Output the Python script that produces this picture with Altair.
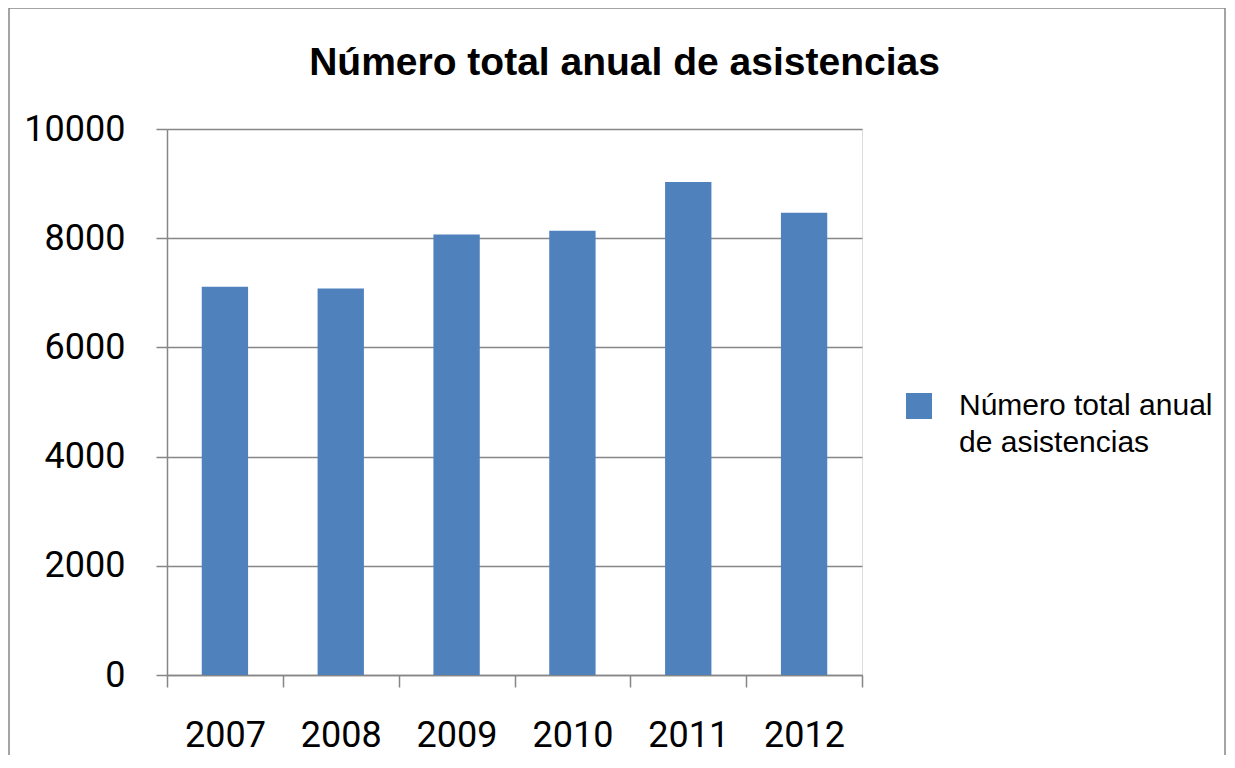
import altair as alt
import pandas as pd

years = ["2007", "2008", "2009", "2010", "2011", "2012"]
values = [7110, 7080, 8070, 8135, 9030, 8465]
series_name = "Número total anual de asistencias"

df = pd.DataFrame({"year": years, "value": values, "serie": [series_name] * len(years)})

GRID = "#868686"
NUM_FONT = "Roboto"
TXT_FONT = "Liberation Sans"

frame = alt.Chart(alt.Data(values=[{}])).mark_rect(
    fillOpacity=0, stroke=GRID, strokeWidth=1.5
).encode(
    x=alt.value(-158), x2=alt.value(1058), y=alt.value(-121), y2=alt.value(700)
)

bars = alt.Chart(df).mark_bar(color="#4F81BD", width=alt.RelativeBandSize(0.4)).encode(
    x=alt.X("year:N", sort=years, title=None,
            scale=alt.Scale(paddingInner=0, paddingOuter=0),
            axis=alt.Axis(labelAngle=0, labelFont=NUM_FONT, labelFontSize=36,
                          labelColor="black", labelPadding=31, tickBand="extent",
                          tickSize=12, tickColor=GRID, domainColor=GRID,
                          domainWidth=1.5, tickWidth=1.5, grid=False)),
    y=alt.Y("value:Q", title=None,
            scale=alt.Scale(domain=[0, 10000]),
            axis=alt.Axis(values=[0, 2000, 4000, 6000, 8000, 10000], format="d",
                          labelFont=NUM_FONT, labelFontSize=36, labelColor="black",
                          labelPadding=31, tickSize=11, tickColor=GRID,
                          domainColor=GRID, domainWidth=1.5, tickWidth=1.5,
                          gridColor=GRID, gridWidth=1.5, gridOpacity=1)),
    color=alt.Color("serie:N", scale=alt.Scale(range=["#4F81BD"]), title=None,
                    legend=alt.Legend(orient="none", legendX=737, legendY=262,
                                      symbolType="square", symbolSize=676,
                                      symbolStrokeWidth=0, labelFont=TXT_FONT,
                                      labelFontSize=30, labelColor="black",
                                      labelLimit=0, labelOffset=25, padding=0,
                                      labelExpr="['Número total anual', 'de asistencias']")),
)

chart = alt.layer(frame, bars).properties(
    width=695, height=546,
    autosize=alt.AutoSizeParams(type="none"),
    padding={"left": 159, "top": 121, "right": 365, "bottom": 80},
    title=alt.Title(series_name, font=TXT_FONT, fontSize=39, fontWeight="bold",
                    color="black", anchor="middle", frame="group", dx=110, offset=-76),
).configure_view(stroke=None).configure(
    background="white", style={"guide-label": {"lineHeight": 37}}
)

chart.save("out.html", embed_options={"renderer": "svg", "actions": False})
